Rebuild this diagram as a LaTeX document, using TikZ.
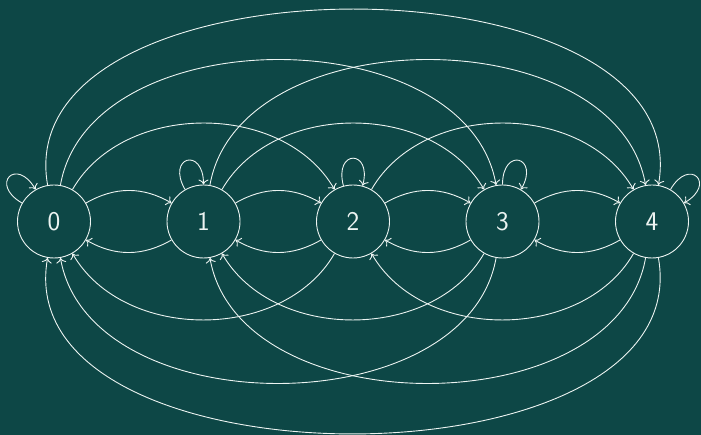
\documentclass[tikz,border=0pt]{standalone}
\usetikzlibrary{arrows.meta}
\definecolor{bgteal}{RGB}{13,71,70}
\definecolor{linec}{RGB}{236,244,242}
\begin{document}
\begin{tikzpicture}[x=1pt,y=1pt,
  state/.style={circle,draw=linec,line width=0.9pt,inner sep=0pt,minimum size=73pt,
    text=linec,font=\sffamily\fontsize{27}{31}\selectfont},
  conn/.style={draw=linec,line width=0.9pt,-{To[length=5pt,width=10pt]}},
  selfloop/.style={conn,distance=38pt}]
\fill[bgteal] (0,0) rectangle (701,435);
\useasboundingbox (0,0) rectangle (701,435);
\node[state] (n0) at (54,213.5) {0};
\node[state] (n1) at (203.5,213.5) {1};
\node[state] (n2) at (353,213.5) {2};
\node[state] (n3) at (502.5,213.5) {3};
\node[state] (n4) at (652,213.5) {4};
% self loops
\draw[selfloop] (n0) to[out=150,in=120] (n0);
\draw[selfloop] (n1) to[out=120,in=90] (n1);
\draw[selfloop] (n2) to[out=105,in=75] (n2);
\draw[selfloop] (n3) to[out=90,in=60] (n3);
\draw[selfloop] (n4) to[out=60,in=30] (n4);
% distance 1
\draw[conn] (n0) to[bend left=30] (n1);
\draw[conn] (n1) to[bend left=30] (n2);
\draw[conn] (n2) to[bend left=30] (n3);
\draw[conn] (n3) to[bend left=30] (n4);
\draw[conn] (n1) to[bend left=30] (n0);
\draw[conn] (n2) to[bend left=30] (n1);
\draw[conn] (n3) to[bend left=30] (n2);
\draw[conn] (n4) to[bend left=30] (n3);
% distance 2
\draw[conn] (n0) to[bend left=60] (n2);
\draw[conn] (n1) to[bend left=60] (n3);
\draw[conn] (n2) to[bend left=60] (n4);
\draw[conn] (n2) to[bend left=60] (n0);
\draw[conn] (n3) to[bend left=60] (n1);
\draw[conn] (n4) to[bend left=60] (n2);
% distance 3
\draw[conn] (n0) to[bend left=80] (n3);
\draw[conn] (n1) to[bend left=80] (n4);
\draw[conn] (n3) to[bend left=80] (n0);
\draw[conn] (n4) to[bend left=80] (n1);
% distance 4
\draw[conn] (n0) to[bend left=100] (n4);
\draw[conn] (n4) to[bend left=100] (n0);
\end{tikzpicture}
\end{document}
